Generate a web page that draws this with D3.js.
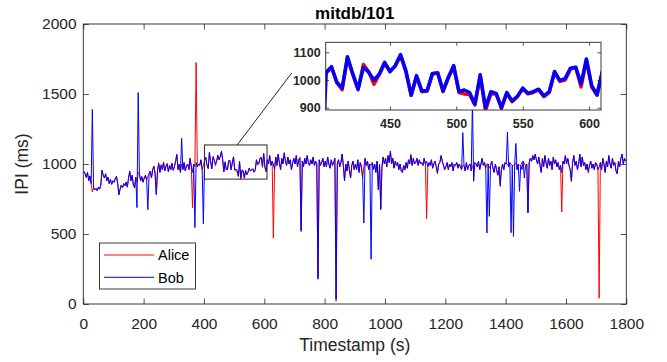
<!DOCTYPE html>
<html>
<head>
<meta charset="utf-8">
<script src="https://cdn.jsdelivr.net/npm/d3@7"></script>
<style>
    body { margin: 0; background: #fff; }
    svg text { font-family: "Liberation Sans", Arial, Helvetica, sans-serif; }
</style>
</head>
<body>
<svg id="chart" width="667" height="362"></svg>
<script>
// IPI samples, one every 4 s starting at t = 2 s
const timeStart = 2;
const timeStep = 4;

const bob = [
    948, 930, 905, 940, 880, 915, 860, 1390, 830, 815, 825, 810, 835, 820, 850, 955, 920, 900, 930, 880, 905, 860, 890, 855, 880,
    870, 895, 912, 860, 780, 820, 850, 830, 860, 845, 870, 835, 900, 948, 880, 920, 850, 830, 905, 688, 1510, 930, 880, 910, 870,
    900, 920, 885, 674, 930, 950, 900, 960, 984, 930, 781, 950, 1000, 940, 990, 960, 1010, 950, 985, 1000, 945, 990, 960, 1005, 955,
    980, 1020, 1068, 960, 1000, 940, 1183, 960, 1010, 950, 990, 1000, 960, 1040, 980, 940, 1000, 545, 1010, 980, 1000, 990, 1030, 960, 573,
    1028, 1048, 992, 971, 1084, 1022, 967, 1046, 1028, 1000, 1022, 1064, 1031, 1052, 1092, 1034, 946, 1016, 961, 961, 1024, 1025, 961, 1010, 1052,
    958, 964, 955, 913, 1019, 901, 958, 952, 901, 955, 925, 941, 971, 952, 958, 967, 943, 958, 1031, 998, 1006, 1043, 1046, 986, 1076,
    980, 947, 1031, 1000, 1060, 990, 1020, 1000, 960, 1050, 990, 1070, 1010, 960, 1040, 1000, 1080, 1020, 990, 1050, 1000, 1030, 960, 1010, 1040,
    1000, 1060, 980, 1030, 1045, 518, 1020, 980, 1040, 1000, 1060, 1010, 990, 1030, 1000, 1050, 990, 1020, 1000, 177, 1030, 990, 1010, 1040, 980,
    1020, 980, 1050, 1000, 970, 1030, 990, 1010, 1040, 35, 1000, 1030, 980, 1010, 1070, 990, 880, 1000, 950, 1020, 960, 900, 990, 1020, 960,
    1000, 960, 1030, 940, 1010, 980, 900, 578, 1040, 990, 1020, 960, 1000, 320, 1010, 960, 1000, 940, 1020, 817, 1000, 674, 980, 1050, 1000,
    1040, 980, 1060, 1010, 1092, 1000, 1040, 970, 1020, 990, 1010, 960, 1000, 950, 940, 990, 960, 1010, 970, 1030, 1000, 1060, 990, 1040, 1000,
    1010, 1040, 990, 1030, 1000, 1010, 990, 1040, 1000, 1020, 980, 1010, 990, 1030, 970, 1000, 1020, 980, 940, 1000, 1010, 1060, 1020, 990, 960,
    980, 1010, 960, 1000, 980, 1010, 950, 1000, 990, 1010, 970, 1000, 980, 960, 1224, 990, 950, 1010, 960, 990, 1000, 950, 1450, 877, 1010,
    1000, 980, 1020, 960, 1000, 1040, 990, 1010, 970, 507, 1000, 626, 990, 1020, 970, 940, 1000, 960, 920, 980, 841, 960, 1000, 960, 1010,
    1000, 1228, 980, 1010, 509, 990, 483, 1000, 1147, 960, 1000, 805, 990, 960, 1020, 900, 990, 1000, 650, 1010, 1040, 1020, 1060, 1030, 1070,
    1030, 1000, 1050, 990, 940, 1040, 980, 1060, 1010, 970, 1040, 990, 1020, 960, 1050, 1000, 1030, 980, 1010, 960, 990, 940, 1020, 1000, 1060,
    1000, 1040, 990, 960, 877, 1010, 1060, 990, 1020, 960, 1000, 1070, 980, 1050, 990, 1010, 960, 1000, 950, 990, 1020, 970, 1000, 960, 1010,
    1000, 960, 980, 1010, 960, 1040, 1000, 940, 1020, 980, 1060, 1000, 970, 1040, 990, 1010, 950, 930, 1020, 980, 1040, 1070, 1000, 1040, 1020
];

const alice = [
    948, 930, 905, 940, 880, 915, 860, 800, 830, 815, 825, 810, 835, 820, 850, 955, 920, 900, 930, 880, 905, 860, 890, 855, 880,
    870, 895, 912, 860, 780, 820, 850, 830, 860, 845, 870, 835, 900, 948, 880, 920, 850, 830, 905, 870, 940, 930, 880, 910, 870,
    900, 920, 885, 910, 930, 950, 900, 960, 984, 930, 785, 955, 1010, 940, 995, 960, 1015, 950, 985, 1005, 945, 990, 960, 1005, 955,
    980, 1020, 1068, 960, 1000, 940, 1000, 960, 1010, 950, 990, 1000, 960, 1040, 980, 688, 1000, 980, 1725, 980, 1000, 990, 1030, 960, 990,
    1025, 1045, 990, 965, 1080, 1020, 965, 1056, 1030, 985, 1020, 1060, 1030, 1050, 1088, 1030, 944, 1012, 958, 960, 1022, 1026, 958, 1008, 1050,
    955, 950, 948, 910, 1015, 890, 950, 950, 898, 952, 922, 940, 968, 950, 955, 965, 940, 955, 1028, 995, 1000, 1040, 1045, 975, 1072,
    975, 945, 1028, 1000, 1060, 990, 1020, 470, 960, 1050, 990, 1070, 1010, 960, 1040, 1000, 1080, 1020, 990, 1050, 1000, 1030, 960, 1010, 1040,
    1000, 1060, 980, 1030, 1045, 530, 1020, 980, 1040, 1000, 1060, 1010, 990, 1030, 1000, 1050, 990, 1020, 1000, 190, 1030, 990, 1010, 1040, 980,
    1020, 980, 1050, 1000, 970, 1030, 990, 1010, 1040, 20, 1000, 1030, 980, 1010, 1070, 990, 880, 1000, 950, 1020, 960, 900, 990, 1020, 960,
    1000, 960, 1030, 940, 1010, 980, 900, 980, 1040, 990, 1020, 960, 1000, 990, 1010, 960, 1000, 940, 1020, 817, 1000, 680, 980, 1050, 1000,
    1040, 980, 1060, 1010, 1092, 1000, 1040, 970, 1020, 990, 1010, 960, 1000, 950, 940, 990, 960, 1010, 970, 1030, 1000, 1070, 990, 1040, 1000,
    1010, 1040, 990, 1030, 1000, 1010, 990, 1040, 1000, 609, 980, 1010, 990, 1030, 970, 1000, 1020, 980, 930, 1000, 1010, 1060, 1020, 990, 960,
    980, 1010, 960, 1000, 980, 1010, 950, 1000, 990, 1010, 970, 1000, 980, 960, 990, 990, 950, 1010, 960, 990, 1000, 950, 980, 1000, 1010,
    1000, 980, 1020, 960, 1000, 1040, 990, 1010, 970, 1000, 1000, 970, 990, 1020, 970, 940, 1000, 960, 920, 980, 860, 960, 1000, 960, 1010,
    1000, 1000, 980, 1010, 1000, 990, 990, 1000, 1010, 960, 1000, 990, 990, 1010, 1020, 1000, 990, 1000, 660, 1010, 1040, 1020, 1060, 1030, 1070,
    1030, 1000, 1050, 990, 940, 1040, 980, 1060, 1010, 970, 1040, 990, 1020, 960, 1050, 1000, 1030, 980, 1010, 960, 990, 657, 1020, 1000, 1060,
    1000, 1040, 990, 960, 877, 1010, 1060, 990, 1020, 960, 1000, 1070, 980, 1050, 990, 1010, 960, 1000, 935, 990, 1020, 970, 1000, 960, 1010,
    1000, 960, 41, 1010, 960, 1040, 1000, 940, 1020, 980, 1060, 1000, 970, 1040, 990, 1010, 950, 930, 1020, 980, 1040, 1070, 1000, 1040, 1020
];

const xTicks = [0, 200, 400, 600, 800, 1000, 1200, 1400, 1600, 1800];
const yTicks = [0, 500, 1000, 1500, 2000];
const zoomXTicks = [450, 500, 550, 600];
const zoomYTicks = [900, 1000, 1100];
const zoomXRange = [401.6, 609];
const zoomYRange = [892, 1136];
const seriesNames = ["Alice", "Bob"];
const seriesColors = ["#ff0000", "#0000ff"];

const axisColor = "#262626";
const fontFamily = '"Liberation Sans", Arial, Helvetica, sans-serif';

function IpiChart() {
    let svg = d3.select("#chart");
    let times = bob.map((d, i) => timeStart + i * timeStep);
    let plain = d3.format("d");

    let xScale = d3.scaleLinear().domain([0, 1800]).range([83.3, 626.3]);
    let yScale = d3.scaleLinear().domain([0, 2000]).range([304, 24]);

    let inset = {left: 325.7, right: 601, top: 42.3, bottom: 110};
    let zx = d3.scaleLinear().domain(zoomXRange).range([inset.left, inset.right]);
    let zy = d3.scaleLinear().domain(zoomYRange).range([inset.bottom, inset.top]);

    function chart() {
        svg.append("rect")
                .attr("width", 667)
                .attr("height", 362)
                .attr("fill", "#fff");

        let defs = svg.append("defs");
        defs.append("clipPath").attr("id", "mainClip")
                .append("rect")
                .attr("x", xScale(0)).attr("y", yScale(2000))
                .attr("width", xScale(1800) - xScale(0))
                .attr("height", yScale(0) - yScale(2000));
        defs.append("clipPath").attr("id", "zoomClip")
                .append("rect")
                .attr("x", inset.left).attr("y", inset.top)
                .attr("width", inset.right - inset.left)
                .attr("height", inset.bottom - inset.top);

        drawAxes(svg, xScale, yScale, xTicks, yTicks, 5.5, 15.5, "normal", 14, 6.8);
        drawSeries(svg, xScale, yScale, "mainClip", 1);

        // zoom window on the main plot and its connector
        svg.append("rect")
                .attr("x", xScale(zoomXRange[0]))
                .attr("y", yScale(zoomYRange[1]))
                .attr("width", xScale(zoomXRange[1]) - xScale(zoomXRange[0]))
                .attr("height", yScale(zoomYRange[0]) - yScale(zoomYRange[1]))
                .attr("fill", "none")
                .attr("stroke", axisColor)
                .attr("stroke-width", 1);
        svg.append("line")
                .attr("x1", xScale(510))
                .attr("y1", yScale(zoomYRange[1]))
                .attr("x2", inset.left - 34)
                .attr("y2", 73)
                .attr("stroke", axisColor)
                .attr("stroke-width", 1);

        // inset
        svg.append("rect")
                .attr("x", inset.left).attr("y", inset.top)
                .attr("width", inset.right - inset.left)
                .attr("height", inset.bottom - inset.top)
                .attr("fill", "#fff");
        drawSeries(svg, zx, zy, "zoomClip", 3.5);
        drawAxes(svg, zx, zy, zoomXTicks, zoomYTicks, 3.5, 12.5, "bold", 9, 5);

        makeLegend();
        makeLabels();
    }

    function drawSeries(g, x, y, clipId, width) {
        let line = d3.line()
                .x((d, i) => x(times[i]))
                .y(d => y(d));
        g.append("g")
                .attr("clip-path", `url(#${clipId})`)
                .selectAll("path")
                .data([alice, bob])
                .enter().append("path")
                .attr("d", line)
                .attr("fill", "none")
                .attr("stroke", (d, i) => seriesColors[i])
                .attr("stroke-width", width)
                .attr("stroke-linejoin", "round");
    }

    function drawAxes(g, x, y, xt, yt, tick, size, weight, padX, padY) {
        let [x0, x1] = x.range();
        let [y0, y1] = y.range();
        let style = sel => sel
                .attr("font-family", fontFamily)
                .attr("font-size", size)
                .attr("font-weight", weight)
                .attr("color", axisColor)
                .call(s => s.select(".domain").remove())
                .call(s => s.selectAll(".tick line").attr("stroke-width", 0.8));

        g.append("g")
                .attr("transform", `translate(0,${y0})`)
                .call(d3.axisBottom(x).tickValues(xt).tickFormat(plain)
                        .tickSizeInner(-tick).tickSizeOuter(0).tickPadding(padX))
                .call(style);
        g.append("g")
                .attr("transform", `translate(0,${y1})`)
                .call(d3.axisTop(x).tickValues(xt).tickSizeInner(-tick).tickSizeOuter(0).tickFormat(""))
                .call(style);
        g.append("g")
                .attr("transform", `translate(${x0},0)`)
                .call(d3.axisLeft(y).tickValues(yt).tickFormat(plain)
                        .tickSizeInner(-tick).tickSizeOuter(0).tickPadding(padY))
                .call(style);
        g.append("g")
                .attr("transform", `translate(${x1},0)`)
                .call(d3.axisRight(y).tickValues(yt).tickSizeInner(-tick).tickSizeOuter(0).tickFormat(""))
                .call(style);

        g.append("rect")
                .attr("x", x0).attr("y", y1)
                .attr("width", x1 - x0).attr("height", y0 - y1)
                .attr("fill", "none")
                .attr("stroke", axisColor)
                .attr("stroke-width", 0.9);
    }

    function makeLegend() {
        let legend = svg.append("g").attr("transform", "translate(99.5,243)");
        legend.append("rect")
                .attr("width", 96)
                .attr("height", 46)
                .attr("fill", "#fff")
                .attr("stroke", axisColor)
                .attr("stroke-width", 0.9);
        let item = legend.selectAll(".item")
                .data(seriesNames)
                .enter().append("g")
                .attr("class", "item")
                .attr("transform", (d, i) => `translate(0,${12 + i * 22.3})`);
        item.append("line")
                .attr("x1", 4.5).attr("x2", 54.5)
                .attr("stroke", (d, i) => seriesColors[i])
                .attr("stroke-width", 1);
        item.append("text")
                .attr("x", 58.5)
                .attr("y", 5.2)
                .attr("font-size", 14.5)
                .attr("fill", "#000")
                .text(d => d);
    }

    function makeLabels() {
        svg.append("text")
                .attr("x", 354.8).attr("y", 19)
                .attr("text-anchor", "middle")
                .attr("font-size", 17)
                .attr("font-weight", "bold")
                .attr("fill", "#000")
                .text("mitdb/101");
        svg.append("text")
                .attr("x", 354.8).attr("y", 351)
                .attr("text-anchor", "middle")
                .attr("font-size", 17.5)
                .attr("fill", axisColor)
                .text("Timestamp (s)");
        svg.append("text")
                .attr("transform", "translate(28,164) rotate(-90)")
                .attr("text-anchor", "middle")
                .attr("font-size", 17.5)
                .attr("fill", axisColor)
                .text("IPI (ms)");
    }

    return chart;
}

IpiChart()();
</script>
</body>
</html>
